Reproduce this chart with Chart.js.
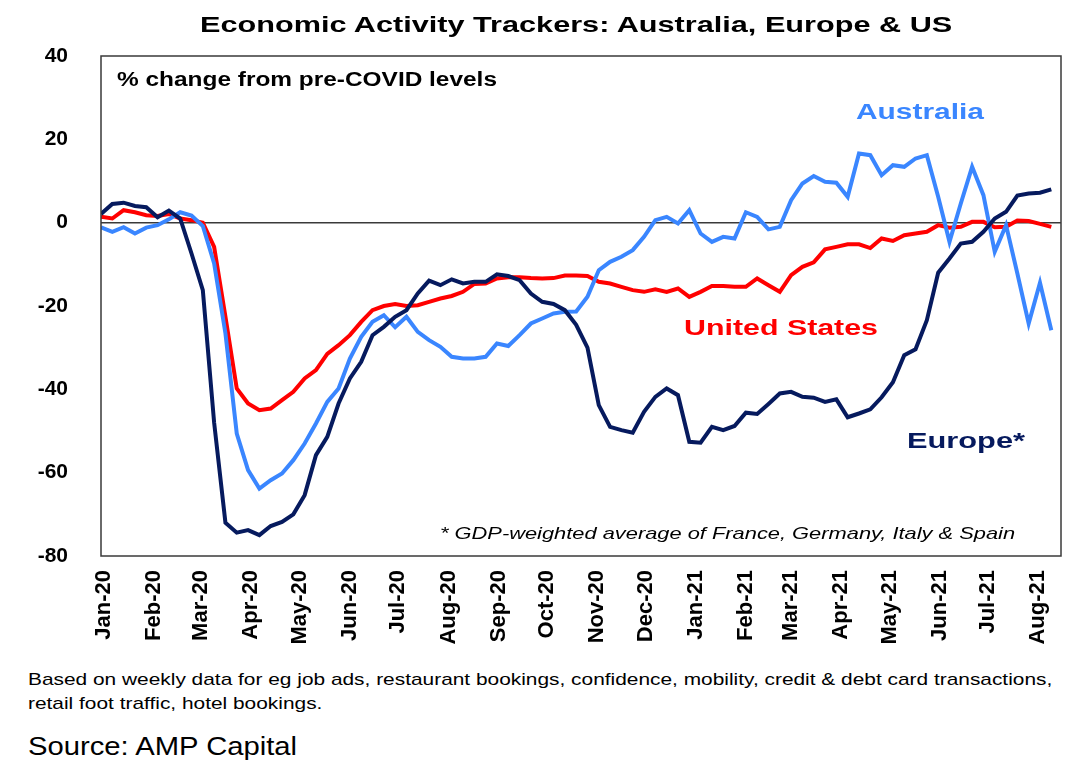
<!DOCTYPE html>
<html>
<head>
<meta charset="utf-8">
<title>Economic Activity Trackers: Australia, Europe & US</title>
<script src="https://cdn.jsdelivr.net/npm/chart.js@4.4.1/dist/chart.umd.min.js"></script>
<style>
    body { margin: 0; background: #fff; }
    #page { position: relative; width: 1091px; height: 776px; overflow: hidden; font-family: "Liberation Sans", Arial, sans-serif; }
    #chart-box { position: absolute; left: 0; top: 0; width: 1091px; height: 660px; }
    .txt { position: absolute; white-space: nowrap; line-height: 1; transform-origin: left center; }
    .bold { font-weight: bold; }
</style>
</head>
<body>
<div id="page">
    <div id="chart-box"><canvas id="activity-chart"></canvas></div>

    <div class="txt bold" data-fit="752" style="left:200px; top:14px; font-size:22px; color:#000;">Economic Activity Trackers: Australia, Europe &amp; US</div>
    <div class="txt bold" data-fit="380" style="left:117px; top:69px; font-size:20px; color:#000;">% change from pre-COVID levels</div>
    <div class="txt bold" data-fit="128" style="left:856px; top:101px; font-size:22px; color:#3A86FF;">Australia</div>
    <div class="txt bold" data-fit="194" style="left:684px; top:317px; font-size:22px; color:#FF0000;">United States</div>
    <div class="txt bold" data-fit="118" style="left:907px; top:430px; font-size:22px; color:#061A5E;">Europe*</div>
    <div class="txt" data-fit="575" style="left:440px; top:525px; font-size:17px; font-style:italic; color:#000;">* GDP-weighted average of France, Germany, Italy &amp; Spain</div>

    <div class="txt" data-fit="1024" style="left:28px; top:668px; font-size:17px; line-height:24px; color:#000;">Based on weekly data for eg job ads, restaurant bookings, confidence, mobility, credit &amp; debt card transactions,<br>retail foot traffic, hotel bookings.</div>
    <div class="txt" data-fit="269" style="left:28px; top:733px; font-size:26px; color:#000;">Source: AMP Capital</div>
</div>

<script>
// 周度数据：2019-12-30 起每周一个点，相对疫情前水平的变化（%）
const firstWeekDay = -2;   // 距 2020-01-01 的天数
const europe = [
    2.1, 4.5, 4.8, 4.0, 3.7, 1.3, 2.9, 1.0, -7.4, -16.2,
    -48, -72, -74.4, -73.8, -75, -72.8, -71.8, -70, -65.4, -55.8,
    -51.4, -43.4, -37.4, -33.4, -27, -25, -22.6, -21, -17, -13.9,
    -15, -13.6, -14.6, -14.2, -14.2, -12.4, -12.8, -13.8, -17, -19,
    -19.5, -21, -24.5, -30, -43.8, -49, -49.8, -50.4, -45.4, -41.8,
    -39.8, -41.4, -52.6, -52.8, -49, -49.8, -48.8, -45.6, -45.9, -43.5,
    -41, -40.6, -41.8, -42, -43, -42.4, -46.7, -45.8, -44.8, -41.9,
    -38.3, -31.8, -30.4, -23.4, -12, -8.6, -5, -4.6, -2.2, 1,
    2.6, 6.5, 7, 7.2, 8
];
const australia = [
    -1.1, -2.2, -1.1, -2.6, -1.2, -0.6, 0.8, 2.5, 1.7, -0.8,
    -9.8, -26.6, -50.6, -59.4, -63.8, -61.8, -60.2, -57, -53, -48.2,
    -43, -39.8, -32.6, -27.4, -23.8, -22.2, -25.1, -22.6, -26.2, -28.2,
    -29.8, -32.2, -32.6, -32.6, -32.2, -29, -29.6, -27, -24.2, -23,
    -21.8, -21.4, -21.3, -17.8, -11.4, -9.4, -8.2, -6.6, -3.4, 0.6,
    1.4, -0.2, 3, -2.6, -4.6, -3.4, -3.8, 2.5, 1.4, -1.6,
    -1, 5.4, 9.4, 11.2, 9.8, 9.6, 6.2, 16.6, 16.2, 11.4,
    13.8, 13.4, 15.4, 16.2, 6.2, -4.6, 4.6, 13.4, 6.6, -7,
    -0.6, -12.2, -24.2, -14.4, -25.8
];
const unitedStates = [
    1.4, 1, 3, 2.5, 1.8, 1.6, 2.1, 1, 0.6, 0,
    -5.8, -22.6, -39.8, -43.4, -45, -44.6, -42.6, -40.6, -37.4, -35.4,
    -31.5, -29.4, -27, -23.8, -21, -20, -19.5, -20, -19.8, -19,
    -18.2, -17.6, -16.6, -14.7, -14.6, -13.4, -13.1, -13.1, -13.3, -13.4,
    -13.3, -12.7, -12.7, -12.8, -14.2, -14.6, -15.4, -16.2, -16.6, -16,
    -16.6, -15.8, -17.8, -16.6, -15.2, -15.2, -15.4, -15.4, -13.4, -15,
    -16.6, -12.6, -10.6, -9.5, -6.4, -5.8, -5.2, -5.2, -6.1, -3.8,
    -4.4, -3, -2.6, -2.2, -0.6, -1.2, -1, 0.2, 0.2, -1.1,
    -1, 0.5, 0.4, -0.3, -1
];

// 横轴月份标签（从 2020 年 1 月开始逐月）
const monthLabels = [
    'Jan-20', 'Feb-20', 'Mar-20', 'Apr-20', 'May-20', 'Jun-20', 'Jul-20', 'Aug-20', 'Sep-20', 'Oct-20',
    'Nov-20', 'Dec-20', 'Jan-21', 'Feb-21', 'Mar-21', 'Apr-21', 'May-21', 'Jun-21', 'Jul-21', 'Aug-21'
];
const yTicks = [-80, -60, -40, -20, 0, 20, 40];

const DAY = 86400000;
const monthTicks = monthLabels.map((m, k) => (Date.UTC(2020, k, 1) - Date.UTC(2020, 0, 1)) / DAY);

function toPoints(values) {
    return values.map((v, i) => ({ x: firstWeekDay + 7 * i, y: v }));
}

const FONT = "'Liberation Sans', Arial, sans-serif";

// 绘图区外框和零线
const plotFrame = {
    id: 'plotFrame',
    afterDatasetsDraw(chart) {
        const { ctx, chartArea } = chart;
        ctx.save();
        ctx.strokeStyle = '#3a3a3a';
        ctx.lineWidth = 1.5;
        ctx.strokeRect(chartArea.left, chartArea.top, chartArea.right - chartArea.left, chartArea.bottom - chartArea.top);
        ctx.restore();
    }
};

function initActivityChart() {
    const ctx = document.getElementById('activity-chart');

    new Chart(ctx, {
        type: 'line',
        data: {
            datasets: [
                { label: 'Europe*', data: toPoints(europe), borderColor: '#061A5E', borderWidth: 4, pointRadius: 0, tension: 0 },
                { label: 'Australia', data: toPoints(australia), borderColor: '#3A86FF', borderWidth: 4, pointRadius: 0, tension: 0 },
                { label: 'United States', data: toPoints(unitedStates), borderColor: '#FF0000', borderWidth: 4, pointRadius: 0, tension: 0 }
            ]
        },
        options: {
            responsive: true,
            maintainAspectRatio: false,
            animation: false,
            layout: { padding: { top: 56, right: 30, left: 0, bottom: 0 } },
            plugins: {
                legend: { display: false },
                title: { display: false },
                tooltip: { enabled: false }
            },
            scales: {
                x: {
                    type: 'linear',
                    min: -2,
                    max: 592,
                    grid: { display: false, drawTicks: false },
                    border: { display: false },
                    afterBuildTicks: function(scale) {
                        scale.ticks = monthTicks.map(v => ({ value: v }));
                    },
                    afterFit: function(scale) { scale.height = 104; },
                    ticks: {
                        autoSkip: false,
                        minRotation: 90,
                        maxRotation: 90,
                        padding: 14,
                        color: '#000',
                        font: { family: FONT, size: 22, weight: 'bold' },
                        callback: function(value) {
                            const k = monthTicks.indexOf(value);
                            return k >= 0 ? monthLabels[k] : '';
                        }
                    }
                },
                y: {
                    min: -80,
                    max: 40,
                    afterBuildTicks: function(scale) {
                        scale.ticks = yTicks.map(v => ({ value: v }));
                    },
                    afterFit: function(scale) { scale.width = 101; },
                    grid: {
                        drawTicks: false,
                        color: function(c) { return c.tick && c.tick.value === 0 ? '#3a3a3a' : 'rgba(0,0,0,0)'; },
                        lineWidth: 1.5
                    },
                    border: { display: false },
                    ticks: {
                        padding: 33,
                        color: '#000',
                        font: { family: FONT, size: 21, weight: 'bold' }
                    }
                }
            }
        },
        plugins: [plotFrame]
    });
}

// 文字按原图宽度横向拉伸
function fitTexts() {
    document.querySelectorAll('[data-fit]').forEach(el => {
        const target = parseFloat(el.dataset.fit);
        const w = el.getBoundingClientRect().width;
        if (w > 0) el.style.transform = 'scaleX(' + (target / w).toFixed(3) + ')';
    });
}

initActivityChart();
fitTexts();
</script>
</body>
</html>
